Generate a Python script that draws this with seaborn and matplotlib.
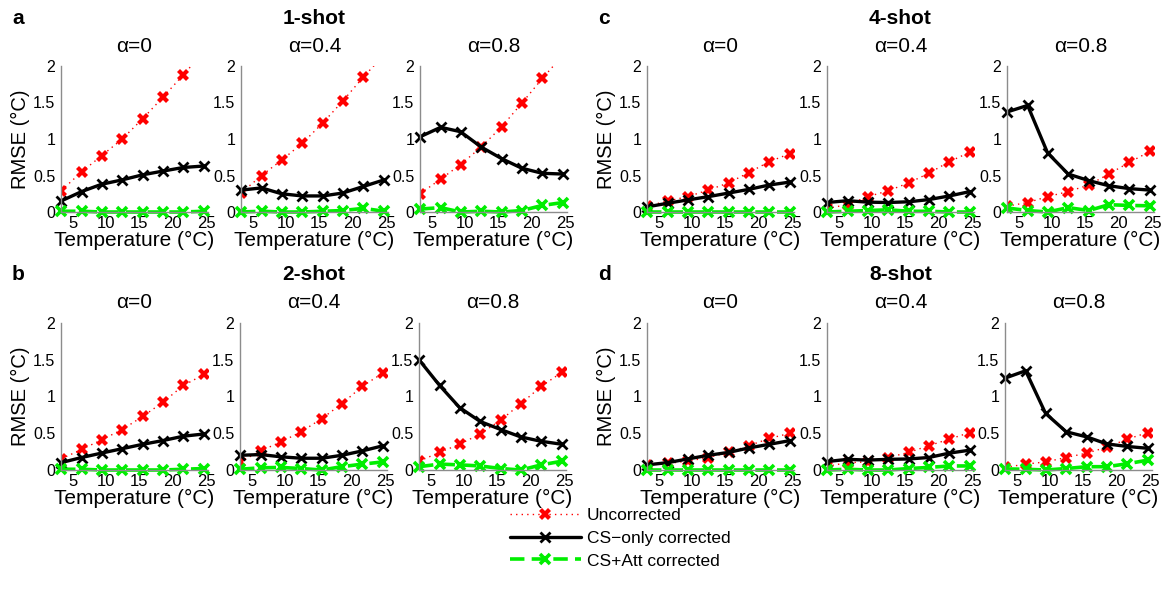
import numpy as np
import pandas as pd
import matplotlib
matplotlib.use("Agg")
import matplotlib.pyplot as plt
from matplotlib.lines import Line2D
import seaborn as sns

sns.set_theme(style="white")
plt.rcParams["font.family"] = ["Liberation Sans", "DejaVu Sans"]
plt.rcParams["text.color"] = "black"
plt.rcParams["axes.labelcolor"] = "black"

# Temperatures at which RMSE was evaluated (°C)
temperature = [3.2, 6.3, 9.3, 12.4, 15.5, 18.5, 21.6, 24.7]
alphas = ["α=0", "α=0.4", "α=0.8"]

# RMSE (°C) per shot count and alpha: uncorrected, CS-only corrected, CS+Att corrected
uncorr_1shot = [
    [0.29, 0.55, 0.77, 1.00, 1.28, 1.57, 1.88, 2.20],
    [0.26, 0.50, 0.71, 0.94, 1.22, 1.52, 1.85, 2.15],
    [0.25, 0.45, 0.65, 0.89, 1.17, 1.49, 1.83, 2.15],
]
cs_1shot = [
    [0.15, 0.28, 0.38, 0.44, 0.51, 0.56, 0.61, 0.63],
    [0.30, 0.33, 0.25, 0.22, 0.22, 0.26, 0.35, 0.44],
    [1.03, 1.16, 1.10, 0.89, 0.73, 0.60, 0.53, 0.52],
]
att_1shot = [
    [0.01, 0.01, 0.00, 0.00, 0.00, 0.00, 0.00, 0.01],
    [0.00, 0.01, 0.00, 0.00, 0.01, 0.02, 0.05, 0.01],
    [0.04, 0.06, 0.00, 0.01, 0.00, 0.02, 0.09, 0.13],
]

uncorr_2shot = [
    [0.15, 0.28, 0.41, 0.55, 0.73, 0.92, 1.15, 1.30],
    [0.11, 0.26, 0.38, 0.52, 0.70, 0.90, 1.14, 1.32],
    [0.12, 0.24, 0.35, 0.49, 0.68, 0.90, 1.14, 1.33],
]
cs_2shot = [
    [0.10, 0.17, 0.23, 0.29, 0.35, 0.40, 0.46, 0.49],
    [0.20, 0.21, 0.18, 0.16, 0.16, 0.20, 0.26, 0.33],
    [1.50, 1.15, 0.85, 0.66, 0.55, 0.45, 0.39, 0.35],
]
att_2shot = [
    [0.01, 0.01, 0.00, 0.00, 0.00, 0.00, 0.01, 0.02],
    [0.01, 0.03, 0.035, 0.02, 0.00, 0.045, 0.08, 0.11],
    [0.045, 0.08, 0.07, 0.055, 0.02, 0.00, 0.07, 0.12],
]

uncorr_4shot = [
    [0.08, 0.15, 0.21, 0.30, 0.40, 0.54, 0.69, 0.80],
    [0.05, 0.10, 0.21, 0.29, 0.40, 0.53, 0.69, 0.82],
    [0.08, 0.13, 0.21, 0.28, 0.37, 0.52, 0.68, 0.83],
]
cs_4shot = [
    [0.07, 0.12, 0.165, 0.21, 0.26, 0.31, 0.37, 0.41],
    [0.13, 0.155, 0.135, 0.13, 0.14, 0.17, 0.22, 0.28],
    [1.37, 1.46, 0.81, 0.52, 0.43, 0.36, 0.32, 0.30],
]
att_4shot = [
    [0.00, 0.00, 0.00, 0.00, 0.00, 0.00, 0.00, 0.00],
    [0.00, 0.01, 0.02, 0.03, 0.01, 0.01, 0.00, 0.00],
    [0.055, 0.02, 0.00, 0.06, 0.02, 0.10, 0.09, 0.085],
]

uncorr_8shot = [
    [0.07, 0.09, 0.12, 0.17, 0.24, 0.33, 0.43, 0.50],
    [0.05, 0.10, 0.11, 0.17, 0.24, 0.33, 0.42, 0.51],
    [0.035, 0.08, 0.11, 0.17, 0.23, 0.31, 0.42, 0.51],
]
cs_8shot = [
    [0.07, 0.10, 0.15, 0.20, 0.24, 0.30, 0.35, 0.40],
    [0.115, 0.145, 0.135, 0.145, 0.15, 0.17, 0.23, 0.27],
    [1.25, 1.35, 0.77, 0.52, 0.45, 0.355, 0.32, 0.295],
]
att_8shot = [
    [0.00, 0.00, 0.00, 0.00, 0.00, 0.00, 0.00, 0.00],
    [0.00, 0.01, 0.00, 0.00, 0.02, 0.035, 0.055, 0.055],
    [0.015, 0.01, 0.00, 0.02, 0.045, 0.045, 0.085, 0.135],
]

groups = [
    ("a", "1-shot", uncorr_1shot, cs_1shot, att_1shot),
    ("b", "2-shot", uncorr_2shot, cs_2shot, att_2shot),
    ("c", "4-shot", uncorr_4shot, cs_4shot, att_4shot),
    ("d", "8-shot", uncorr_8shot, cs_8shot, att_8shot),
]

W, H = 1173, 601
fig = plt.figure(figsize=(W / 100, H / 100), dpi=100)

RED = "#ff0000"
GREEN = "#00ee00"
SPINE = "#8c8c8c"

# group placement: (panel-left pixel positions, axes top pixel, axes bottom pixel)
group_layout = {
    "a": ([61, 241, 420], 66, 212),
    "c": ([647, 827, 1007], 66, 212),
    "b": ([61, 240, 419], 323, 470),
    "d": ([647, 827, 1005], 323, 470),
}
panel_w = 147

series_style = [
    dict(color=RED, linestyle=(0, (1, 3)), linewidth=1.0, marker="X",
         markersize=8.5, markeredgewidth=0, markeredgecolor=RED, clip_on=True),
    dict(color="black", linestyle="-", linewidth=2.4, marker="x",
         markersize=6.5, markeredgewidth=2.0, markeredgecolor="black", clip_on=False),
    dict(color=GREEN, linestyle=(0, (4, 2)), linewidth=2.6, marker="x",
         markersize=6.5, markeredgewidth=2.6, markeredgecolor=GREEN, clip_on=False),
]

for letter, shot, unc, cs, att in groups:
    lefts, top, bottom = group_layout[letter]
    for k in range(3):
        ax = fig.add_axes([lefts[k] / W, 1 - bottom / H, panel_w / W, (bottom - top) / H])
        for vals, st in zip((unc[k], cs[k], att[k]), series_style):
            df = pd.DataFrame({"T": temperature, "RMSE": vals})
            sns.lineplot(data=df, x="T", y="RMSE", ax=ax, legend=False,
                         estimator=None, **st)
        ax.set_xlim(3.2, 25.3)
        ax.set_ylim(0, 2)
        ax.set_xticks([5, 10, 15, 20, 25])
        ax.set_yticks([0, 0.5, 1, 1.5, 2])
        ax.set_yticklabels(["0", "0.5", "1", "1.5", "2"])
        ax.tick_params(axis="x", labelsize=12, length=0, pad=3, colors="black")
        ax.tick_params(axis="y", labelsize=11.5, length=0, pad=4, colors="black")
        for side in ("top", "right"):
            ax.spines[side].set_visible(False)
        for side in ("left", "bottom"):
            ax.spines[side].set_color(SPINE)
            ax.spines[side].set_linewidth(1.0)
        ax.set_xlabel("Temperature (°C)", fontsize=15, labelpad=0)
        if k == 0:
            ax.set_ylabel("RMSE (°C)", fontsize=14.5, labelpad=2)
        else:
            ax.set_ylabel("")
        ax.set_facecolor("none")
        cx = (lefts[k] + panel_w / 2) / W
        fig.text(cx, 1 - (top - 20) / H, alphas[k], ha="center", va="center", fontsize=15)
        if k == 1:
            fig.text(cx, 1 - (top - 48) / H, shot, ha="center", va="center",
                     fontsize=15, fontweight="bold")
    fig.text((lefts[0] - 49) / W, 1 - (top - 48) / H, letter, ha="left", va="center",
             fontsize=15, fontweight="bold")

handles = [
    Line2D([], [], **{k: v for k, v in series_style[0].items() if k != "clip_on"}),
    Line2D([], [], **{k: v for k, v in series_style[1].items() if k != "clip_on"}),
    Line2D([], [], **{k: v for k, v in series_style[2].items() if k != "clip_on"}),
]
fig.legend(handles, ["Uncorrected", "CS\u2212only corrected", "CS+Att corrected"],
           loc="center", bbox_to_anchor=(620 / W, 1 - 538 / H), frameon=False,
           fontsize=12.5, handlelength=4.1, handletextpad=0.35, labelspacing=0.45,
           numpoints=1, borderpad=0)

fig.savefig("out.png", dpi=100)
